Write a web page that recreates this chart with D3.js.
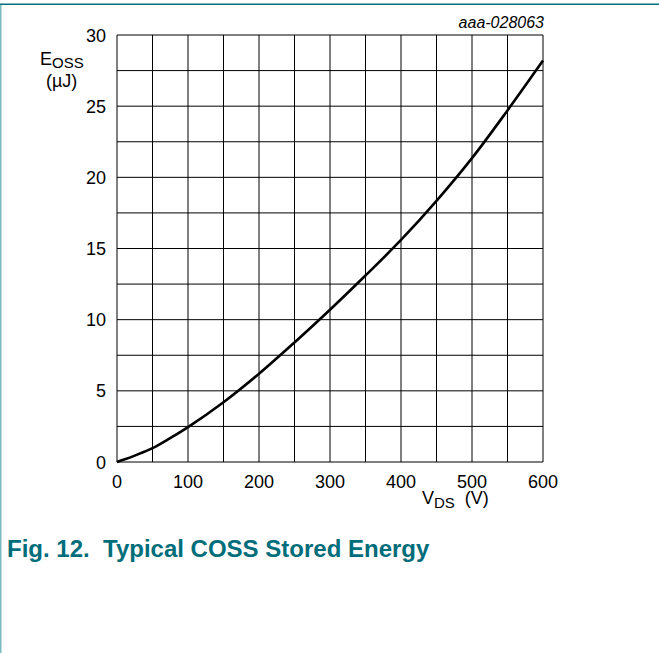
<!DOCTYPE html>
<html>
<head>
<meta charset="utf-8">
<style>
body { margin: 0; background: #fff; }
text { font-family: "Liberation Sans", Arial, sans-serif; fill: #000; }
.grid line { stroke: #000; stroke-width: 1; }
.title { font-weight: bold; fill: #006d7a; }
</style>
</head>
<body>
<svg width="659" height="653"></svg>
<script src="https://d3js.org/d3.v7.min.js"></script>
<script>

// drain-source voltage (V) and stored output energy (uJ)
var vds = [0, 10, 25, 50, 75, 100, 150, 200, 250, 300, 350, 400, 450, 500, 550, 600];
var eoss = [0, 0.17, 0.45, 0.97, 1.68, 2.45, 4.2, 6.2, 8.4, 10.7, 13.1, 15.6, 18.35, 21.35, 24.7, 28.2];

var xTicks = [0, 100, 200, 300, 400, 500, 600];
var yTicks = [0, 5, 10, 15, 20, 25, 30];
var xGrid = d3.range(0, 601, 50);
var yGrid = d3.range(0, 30.1, 2.5);

var svg = d3.select("svg");

// page frame: teal rule on top, pale one down the left side
svg.append("rect").attr("x", 0).attr("y", 3.5).attr("width", 659).attr("height", 1.5).attr("fill", "#00707c");
svg.append("rect").attr("x", 0).attr("y", 5).attr("width", 1.5).attr("height", 648).attr("fill", "#7ab9c2");

var x = d3.scaleLinear().domain([0, 600]).range([117, 543]);
var y = d3.scaleLinear().domain([0, 30]).range([462, 35]);

var grid = svg.append("g").attr("class", "grid");
grid.selectAll(".v").data(xGrid).enter().append("line")
  .attr("x1", d => x(d)).attr("x2", d => x(d))
  .attr("y1", y(0)).attr("y2", y(30));
grid.selectAll(".h").data(yGrid).enter().append("line")
  .attr("x1", x(0)).attr("x2", x(600))
  .attr("y1", d => y(d)).attr("y2", d => y(d));

// tick labels
svg.selectAll(".yl").data(yTicks).enter().append("text")
  .attr("x", 106).attr("y", d => y(d) + 6.5)
  .attr("text-anchor", "end").attr("font-size", 18)
  .text(d => d);
svg.selectAll(".xl").data(xTicks).enter().append("text")
  .attr("x", d => x(d)).attr("y", 487.5)
  .attr("text-anchor", "middle").attr("font-size", 18)
  .text(d => d);

// curve
var line = d3.line()
  .x((d, i) => x(vds[i]))
  .y(d => y(d))
  .curve(d3.curveCatmullRom.alpha(0.5));
svg.append("path").datum(eoss)
  .attr("d", line)
  .attr("fill", "none").attr("stroke", "#000").attr("stroke-width", 2.6);

// axis titles
var yt = svg.append("text").attr("x", 40).attr("y", 65).attr("font-size", 18);
yt.append("tspan").text("E");
yt.append("tspan").attr("dy", 3).attr("font-size", 15).text("OSS");
svg.append("text").attr("x", 46).attr("y", 87).attr("font-size", 18).text("(µJ)");

var xt = svg.append("text").attr("x", 422).attr("y", 504).attr("font-size", 18);
xt.append("tspan").text("V");
xt.append("tspan").attr("dy", 4).attr("font-size", 15).text("DS");
xt.append("tspan").attr("dy", -4).text("\u00a0\u00a0(V)");

svg.append("text").attr("x", 544).attr("y", 28)
  .attr("text-anchor", "end").attr("font-size", 16).attr("font-style", "italic")
  .text("aaa-028063");

svg.append("text").attr("class", "title").attr("x", 7).attr("y", 557)
  .attr("font-size", 24)
  .text("Fig. 12.\u00a0\u00a0Typical COSS Stored Energy");

</script>
</body>
</html>
